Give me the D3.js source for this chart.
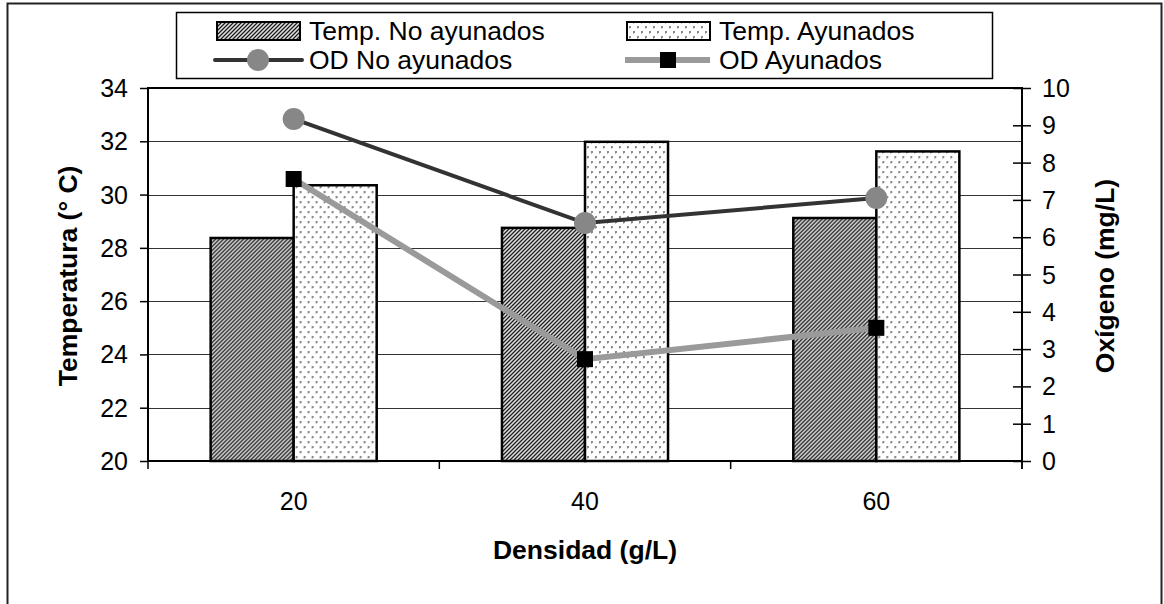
<!DOCTYPE html>
<html>
<head>
<meta charset="utf-8">
<script src="https://cdn.jsdelivr.net/npm/d3@7"></script>
<style>
  body { margin: 0; background: #fff; }
  svg { display: block; font-family: "Liberation Sans", Arial, sans-serif; }
</style>
</head>
<body>
<svg width="1164" height="604"></svg>
<script>
// data
const categories = ["20", "40", "60"];
const tempNoAyunados = [28.37, 28.75, 29.12];
const tempAyunados = [30.35, 31.98, 31.62];
const odNoAyunados = [9.17, 6.38, 7.05];
const odAyunados = [7.56, 2.73, 3.57];
const leftTicks = [20, 22, 24, 26, 28, 30, 32, 34];
const rightTicks = [0, 1, 2, 3, 4, 5, 6, 7, 8, 9, 10];

const svg = d3.select("svg");
const plot = { left: 148, right: 1022, top: 88, bottom: 461 };
const font = "'Liberation Sans', Arial, sans-serif";

// patterns for the bars
const defs = svg.append("defs");
const darkPat = defs.append("pattern")
  .attr("id", "darkPat").attr("patternUnits", "userSpaceOnUse")
  .attr("width", 4).attr("height", 4);
darkPat.append("rect").attr("width", 4).attr("height", 4).attr("fill", "#8c8c8c");
[[3, 0], [2, 1], [1, 2], [0, 3]].forEach(p => {
  darkPat.append("rect").attr("x", p[0]).attr("y", p[1]).attr("width", 1).attr("height", 1).attr("fill", "#1a1a1a");
});
[[1, 0], [0, 1], [3, 2], [2, 3]].forEach(p => {
  darkPat.append("rect").attr("x", p[0]).attr("y", p[1]).attr("width", 1).attr("height", 1).attr("fill", "#e0e0e0");
});

const lightPat = defs.append("pattern")
  .attr("id", "lightPat").attr("patternUnits", "userSpaceOnUse")
  .attr("width", 8).attr("height", 10);
lightPat.append("rect").attr("width", 8).attr("height", 10).attr("fill", "#fff");
[[1, 1], [5, 6]].forEach(p => {
  lightPat.append("rect").attr("x", p[0]).attr("y", p[1]).attr("width", 2).attr("height", 2).attr("fill", "#8a8a8a");
  lightPat.append("rect").attr("x", p[0]).attr("y", p[1] + 2).attr("width", 1).attr("height", 1).attr("fill", "#bdbdbd");
});

// outer frame
svg.append("rect")
  .attr("x", 7.5).attr("y", 3.5).attr("width", 1154).attr("height", 640)
  .attr("fill", "none").attr("stroke", "#222").attr("stroke-width", 2);

// scales
const x0 = d3.scaleBand().domain(categories)
  .range([plot.left, plot.right]).paddingInner(0.43).paddingOuter(0.215);
const series = ["no", "si"];
const x1 = d3.scaleBand().domain(series).range([0, x0.bandwidth()]);
const yL = d3.scaleLinear().domain([20, 34]).range([plot.bottom, plot.top]);
const yR = d3.scaleLinear().domain([0, 10]).range([plot.bottom, plot.top]);

// grid lines
svg.append("g").selectAll("line")
  .data(leftTicks.slice(1, -1)).join("line")
  .attr("x1", plot.left).attr("x2", plot.right)
  .attr("y1", d => Math.round(yL(d)) + 0.5).attr("y2", d => Math.round(yL(d)) + 0.5)
  .attr("stroke", "#333").attr("stroke-width", 1);

// bars
const barData = categories.map((c, i) => ({ c, no: tempNoAyunados[i], si: tempAyunados[i] }));
const groups = svg.append("g").selectAll("g")
  .data(barData).join("g")
  .attr("transform", d => `translate(${x0(d.c)},0)`);
groups.selectAll("rect")
  .data(d => series.map(k => ({ k, v: d[k] })))
  .join("rect")
  .attr("x", d => x1(d.k))
  .attr("y", d => yL(d.v))
  .attr("width", x1.bandwidth())
  .attr("height", d => plot.bottom - yL(d.v))
  .attr("fill", d => d.k === "no" ? "url(#darkPat)" : "url(#lightPat)")
  .attr("stroke", "#000").attr("stroke-width", 2.5);

// plot area border
svg.append("rect")
  .attr("x", plot.left).attr("y", plot.top)
  .attr("width", plot.right - plot.left).attr("height", plot.bottom - plot.top)
  .attr("fill", "none").attr("stroke", "#000").attr("stroke-width", 2);

// axes
const leftAxis = svg.append("g")
  .attr("transform", `translate(${plot.left},0)`)
  .call(d3.axisLeft(yL).tickValues(leftTicks).tickSize(8).tickPadding(12));
const rightAxis = svg.append("g")
  .attr("transform", `translate(${plot.right},0)`)
  .call(d3.axisRight(yR).tickValues(rightTicks).tickSize(9).tickPadding(11));
rightAxis.selectAll(".tick line").attr("x1", -9);
const bottomAxis = svg.append("g")
  .attr("transform", `translate(0,${plot.bottom})`)
  .call(d3.axisBottom(x0).tickSize(0).tickPadding(31));
// category separators below the axis
const seps = [plot.left].concat(categories.map(c => x0(c) + x0.bandwidth() + x0.step() * 0.215), [plot.right]);
svg.append("g").selectAll("line")
  .data(seps).join("line")
  .attr("x1", d => d).attr("x2", d => d)
  .attr("y1", plot.bottom).attr("y2", plot.bottom + 8)
  .attr("stroke", "#000").attr("stroke-width", 1.5);

[leftAxis, rightAxis, bottomAxis].forEach(a => {
  a.select(".domain").remove();
  a.selectAll(".tick line").attr("stroke", "#000").attr("stroke-width", 1.5);
  a.selectAll("text").attr("font-size", 25).attr("fill", "#000")
    .attr("font-family", font);
});
rightAxis.selectAll("text").attr("dy", "0.34em");
leftAxis.selectAll("text").attr("dy", "0.34em");

// lines
const cx = c => x0(c) + x0.bandwidth() / 2;
const lineR = d3.line().x(d => cx(d.c)).y(d => yR(d.v));
const odNo = categories.map((c, i) => ({ c, v: odNoAyunados[i] }));
const odSi = categories.map((c, i) => ({ c, v: odAyunados[i] }));

svg.append("path").datum(odNo).attr("d", lineR)
  .attr("fill", "none").attr("stroke", "#333").attr("stroke-width", 4);
svg.append("g").selectAll("circle").data(odNo).join("circle")
  .attr("cx", d => cx(d.c)).attr("cy", d => yR(d.v)).attr("r", 11)
  .attr("fill", "#878787");

svg.append("path").datum(odSi).attr("d", lineR)
  .attr("fill", "none").attr("stroke", "#9a9a9a").attr("stroke-width", 6);
svg.append("g").selectAll("rect").data(odSi).join("rect")
  .attr("x", d => cx(d.c) - 8).attr("y", d => yR(d.v) - 8)
  .attr("width", 16).attr("height", 16).attr("fill", "#000");

// axis titles
svg.append("text")
  .attr("x", 585).attr("y", 559).attr("text-anchor", "middle")
  .attr("font-size", 26.5).attr("font-weight", "bold").text("Densidad (g/L)");
svg.append("text")
  .attr("transform", "translate(77,276) rotate(-90)").attr("text-anchor", "middle")
  .attr("font-size", 26.5).attr("font-weight", "bold").text("Temperatura (° C)");
svg.append("text")
  .attr("transform", "translate(1114,276) rotate(-90)").attr("text-anchor", "middle")
  .attr("font-size", 26.5).attr("font-weight", "bold").text("Oxígeno (mg/L)");

// legend
const legend = svg.append("g");
legend.append("rect")
  .attr("x", 176.5).attr("y", 12.5).attr("width", 816).attr("height", 66)
  .attr("fill", "#fff").attr("stroke", "#000").attr("stroke-width", 1.5);

const legendItems = [
  { name: "Temp. No ayunados", type: "bar", fill: "url(#darkPat)", x: 217, y: 31 },
  { name: "Temp. Ayunados", type: "bar", fill: "url(#lightPat)", x: 627, y: 31 },
  { name: "OD No ayunados", type: "circle", x: 217, y: 60 },
  { name: "OD Ayunados", type: "square", x: 627, y: 60 }
];
legendItems.forEach(it => {
  const g = legend.append("g");
  if (it.type === "bar") {
    g.append("rect").attr("x", it.x).attr("y", it.y - 9).attr("width", 83).attr("height", 18)
      .attr("fill", it.fill).attr("stroke", "#000").attr("stroke-width", 2);
  } else if (it.type === "circle") {
    g.append("line").attr("x1", it.x - 2).attr("x2", it.x + 85).attr("y1", it.y).attr("y2", it.y)
      .attr("stroke", "#333").attr("stroke-width", 4).attr("stroke-linecap", "round");
    g.append("circle").attr("cx", it.x + 41).attr("cy", it.y).attr("r", 11).attr("fill", "#878787");
  } else {
    g.append("line").attr("x1", it.x - 2).attr("x2", it.x + 83).attr("y1", it.y).attr("y2", it.y)
      .attr("stroke", "#9a9a9a").attr("stroke-width", 6);
    g.append("rect").attr("x", it.x + 33).attr("y", it.y - 8).attr("width", 16).attr("height", 16).attr("fill", "#000");
  }
  g.append("text").attr("x", it.x + 92).attr("y", it.y + 9)
    .attr("font-size", 26.5).attr("fill", "#000").attr("font-family", font).text(it.name);
});
</script>
</body>
</html>
